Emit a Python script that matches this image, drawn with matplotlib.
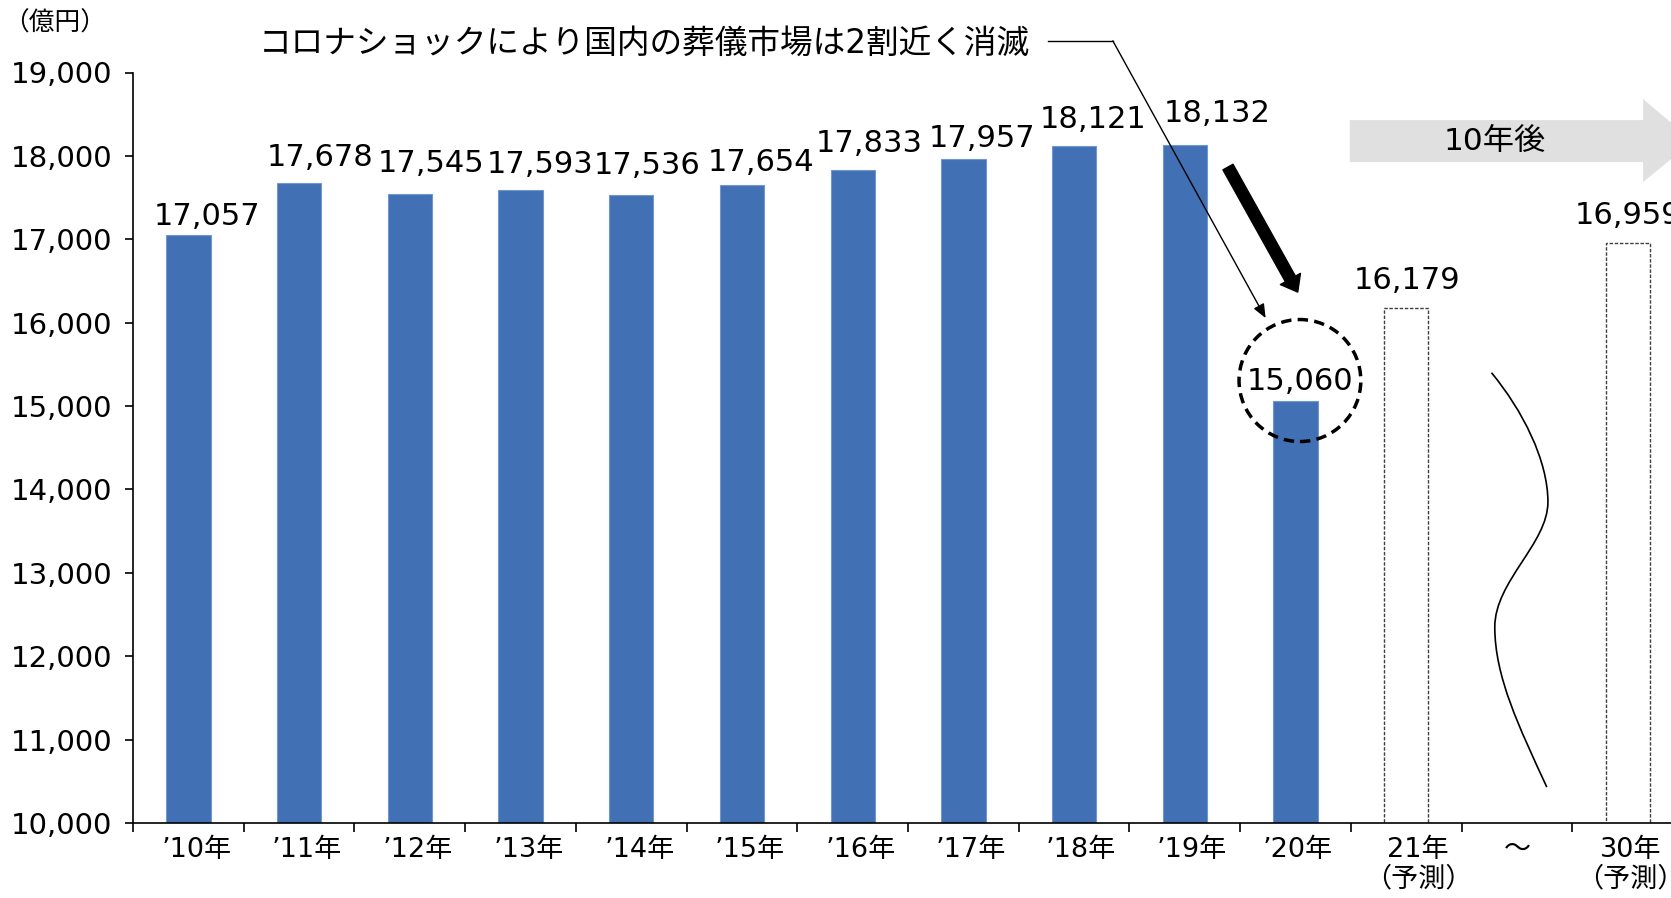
import numpy as np
import matplotlib
matplotlib.use('Agg')
import matplotlib.pyplot as plt
from matplotlib.patches import Ellipse, Polygon, PathPatch
from matplotlib.path import Path
from matplotlib.transforms import ScaledTranslation

plt.rcParams['font.family'] = ['DejaVu Sans', 'Noto Sans CJK JP']

# data
labels = ['’10年', '’11年', '’12年', '’13年', '’14年', '’15年', '’16年',
          '’17年', '’18年', '’19年', '’20年', '21年\n（予測）', '～', '30年\n（予測）']
actual_idx = list(range(11))
actual_vals = [17057, 17678, 17545, 17593, 17536, 17654, 17833, 17957, 18121, 18132, 15060]
fc_idx = [11, 13]
fc_vals = [16179, 16959]
yticks = [10000, 11000, 12000, 13000, 14000, 15000, 16000, 17000, 18000, 19000]
ytick_labels = [f'{v:,}' for v in yticks]
title = 'コロナショックにより国内の葬儀市場は2割近く消滅'
unit = '（億円）'

# label nudges in pixels (as placed in the original)
val_dx = [19, 21, 21, 20, 16, 19, 17, 19, 19, 32, 4, 1, 0]
val_dy = [10, 17, 22, 17, 21, 14, 18, 12, 18, 23, 11, 19, 19]
tick_dx = [8, 8, 8, 8, 8, 8, 8, 7, 7, 7, 2, 12, 0, 3]

BLUE = '#4270B4'

fig = plt.figure(figsize=(16.71, 8.98), dpi=100)
ax = fig.add_axes([133 / 1671, 75 / 898, 1550 / 1671, 750.5 / 898])

ax.bar(actual_idx, actual_vals, width=0.4, color=BLUE, edgecolor='#7197d0', lw=0.8, zorder=2)
ax.bar(fc_idx, fc_vals, width=0.4, facecolor='white', edgecolor='#404040',
       lw=1.0, linestyle=(0, (2.5, 1.2)), zorder=2)

for x, v, dx, dy in zip(actual_idx + fc_idx, actual_vals + fc_vals, val_dx, val_dy):
    ax.annotate(f'{v:,}', (x, v), xytext=(dx * 0.72, dy * 0.72), textcoords='offset points',
                ha='center', va='baseline', fontsize=22, annotation_clip=False)

ax.set_xlim(-0.5, 13.5)
ax.set_ylim(10000, 19000)
ax.set_yticks(yticks, ytick_labels)
ax.set_xticks(range(len(labels)), labels)
ax.set_xticks(np.arange(-0.5, len(labels), 1), minor=True)
ax.tick_params(axis='y', direction='out', length=6, width=1.2, pad=9, labelsize=21)
ax.tick_params(axis='x', which='major', length=0, pad=10, labelsize=19.5)
ax.tick_params(axis='x', which='minor', direction='out', length=6.5, width=1.2)
for lbl, s in zip(ax.get_xticklabels(), tick_dx):
    lbl.set_transform(lbl.get_transform() + ScaledTranslation(s / 100, 0, fig.dpi_scale_trans))
for s in ['top', 'right']:
    ax.spines[s].set_visible(False)
for s in ['left', 'bottom']:
    ax.spines[s].set_linewidth(1.2)

fig.text(55 / 1671, 1 - 24 / 898, unit, fontsize=18.5, ha='center', va='center')

# callout text + thin arrow
ax.text(0.64, 19353, title, fontsize=23.5, ha='left', va='center', clip_on=False)
ax.plot([7.76, 8.35], [19380, 19380], color='black', lw=1, clip_on=False)
ax.annotate('', xy=(9.73, 16055), xytext=(8.35, 19380),
            arrowprops=dict(arrowstyle='-|>,head_length=0.6,head_width=0.25',
                            color='black', lw=1, mutation_scale=14,
                            shrinkA=0, shrinkB=0),
            annotation_clip=False)

# thick black arrow
ax.annotate('', xy=(10.02, 16367), xytext=(9.39, 17866),
            arrowprops=dict(arrowstyle='simple,head_length=1.5,head_width=2.3,tail_width=1.15',
                            color='black', mutation_scale=7.2, shrinkA=0, shrinkB=0),
            annotation_clip=False)

# dashed circle round the 2020 label
ax.add_patch(Ellipse((10.04, 15306), 1.10, 1463, fill=False, edgecolor='black',
                     lw=2.5, linestyle=(0, (3, 1.8)), zorder=4))

# gray "10年後" arrow
arrow = Polygon([(10.49, 17926), (13.14, 17926), (13.14, 17686), (13.59, 18177),
                 (13.14, 18681), (13.14, 18429), (10.49, 18429)],
                closed=True, facecolor='#e0e0e0', edgecolor='none', clip_on=False, zorder=1)
ax.add_patch(arrow)
ax.text(11.80, 18177, '10年後', fontsize=22.5, ha='center', va='center')

# break wave
verts = [(11.77, 15400), (12.05, 14950), (12.28, 14350), (12.28, 13850),
         (12.28, 13350), (11.80, 12900), (11.80, 12350),
         (11.80, 11750), (12.02, 11150), (12.27, 10430)]
codes = [Path.MOVETO] + [Path.CURVE4] * 9
ax.add_patch(PathPatch(Path(verts, codes), fill=False, edgecolor='black', lw=1.2))

fig.savefig('out.png', dpi=100)
